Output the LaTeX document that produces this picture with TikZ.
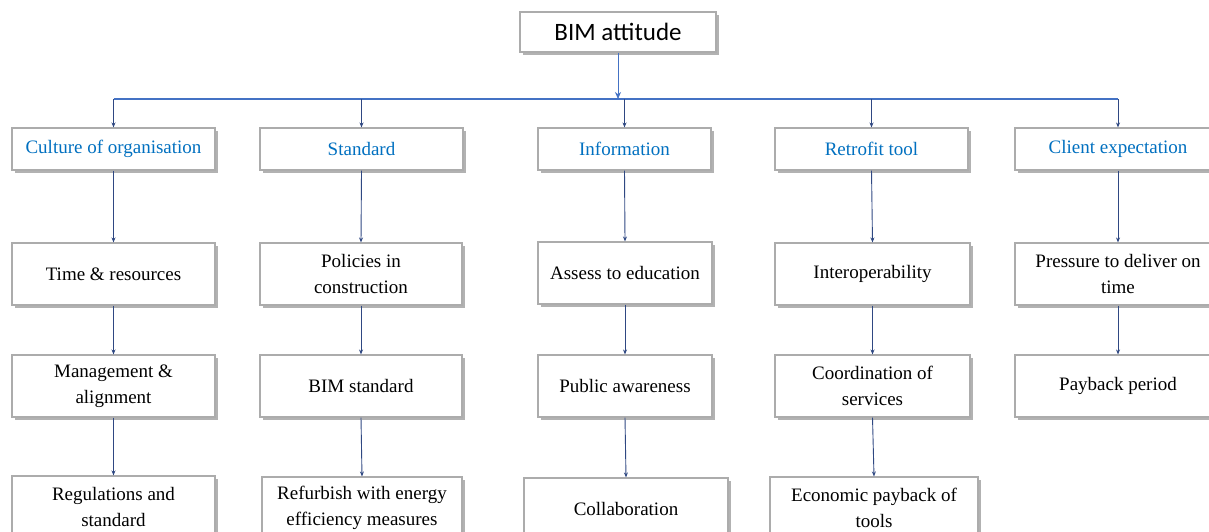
\documentclass[tikz,border=0pt]{standalone}
\usepackage{fontspec}
\setmainfont{Liberation Serif}
\newfontfamily\calibri{Carlito}
\usetikzlibrary{shadows,arrows.meta}
\definecolor{headblue}{RGB}{0,112,192}
\definecolor{barblue}{RGB}{68,114,196}
\definecolor{navy}{RGB}{47,72,130}
\tikzset{
  box/.style={draw=gray!65, line width=1.1pt, fill=white, inner sep=2pt,
    general shadow={shadow xshift=2.8pt, shadow yshift=-2.8pt, fill=gray!60},
    align=center, font=\fontsize{19}{26}\selectfont, text=black},
  headbox/.style={box, minimum height=42pt, text=headblue},
  lowbox/.style={box, minimum height=62pt},
  conn/.style={draw=navy, line width=0.9pt, -{Stealth[length=5pt,width=4pt]}},
  bar/.style={draw=barblue, line width=1.3pt}
}
\begin{document}
\begin{tikzpicture}[x=1pt,y=-1pt]
\useasboundingbox (0,0) rectangle (1209,532);
\clip (0,0) rectangle (1209,532);
% top
\node[box, minimum width=196pt, minimum height=40pt, font=\calibri\fontsize{25}{28}\selectfont] (top) at (618,32) {BIM attitude};
% level 1
\node[headbox, minimum width=203pt] (c1) at (113.5,149) {Culture of organisation};
\node[headbox, minimum width=203pt] (c2) at (361.5,149) {Standard};
\node[headbox, minimum width=173pt] (c3) at (624.5,149) {Information};
\node[headbox, minimum width=193pt] (c4) at (871.5,149) {Retrofit tool};
\node[headbox, minimum width=206pt] (c5) at (1118,149) {Client expectation};
% level 2
\node[lowbox, minimum width=203pt] (t1) at (113.5,274) {Time \& resources};
\node[lowbox, minimum width=202pt] (t2) at (361,274) {Policies in\\construction};
\node[lowbox, minimum width=174pt] (t3) at (625,273) {Assess to education};
\node[lowbox, minimum width=195pt] (t4) at (872.5,274) {Interoperability};
\node[lowbox, minimum width=206pt] (t5) at (1118,274) {Pressure to deliver on\\time};
% level 3
\node[lowbox, minimum width=203pt] (m1) at (113.5,386) {Management \&\\alignment};
\node[lowbox, minimum width=202pt] (m2) at (361,386) {BIM standard};
\node[lowbox, minimum width=174pt] (m3) at (625,386) {Public awareness};
\node[lowbox, minimum width=195pt] (m4) at (872.5,386) {Coordination of\\services};
\node[lowbox, minimum width=206pt] (m5) at (1118,386) {Payback period};
% level 4
\node[lowbox, minimum width=203pt] (b1) at (113.5,507) {Regulations and\\standard};
\node[lowbox, minimum width=200pt] (b2) at (362,508) {Refurbish with energy\\efficiency measures};
\node[lowbox, minimum width=204pt] (b3) at (626,509) {Collaboration};
\node[lowbox, minimum width=208pt] (b4) at (874,508) {Economic payback of\\tools};
% bar
\coordinate (hub) at (618,99);
\coordinate (h1) at (113.5,99);
\coordinate (h5) at (1118,99);
\draw[bar] (h1) -- (h5);
\draw[draw=barblue, line width=0.8pt, -{Stealth[length=7pt,width=6pt]}] (top) -- (hub);
\foreach \c in {c1,c2,c3,c4,c5}{
  \draw[conn] (hub -| \c.north) -- (\c.north);
}
\foreach \a/\b in {c1/t1,t1/m1,m1/b1,c2/t2,t2/m2,m2/b2,c3/t3,t3/m3,m3/b3,c4/t4,t4/m4,m4/b4,c5/t5,t5/m5}{
  \draw[conn] (\a.south) -- (\b.north);
}
\end{tikzpicture}
\end{document}
